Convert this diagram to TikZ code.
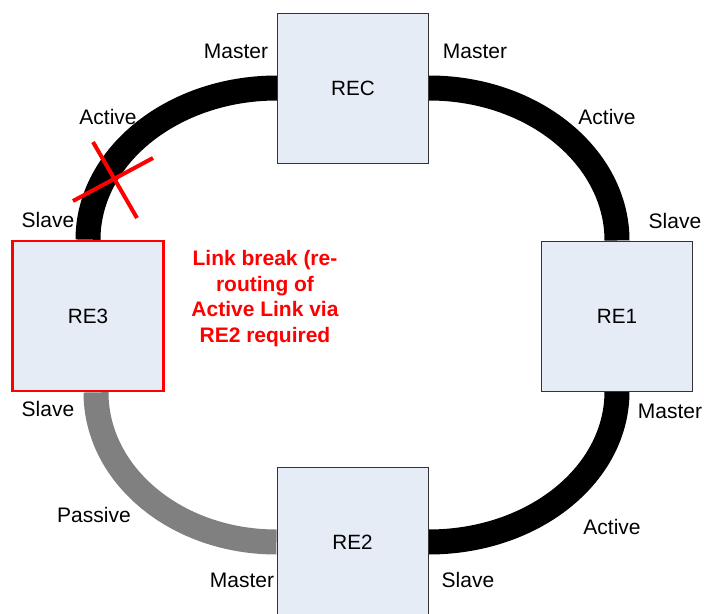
\documentclass[tikz,border=0pt]{standalone}
\usepackage{fontspec}
\setmainfont{Liberation Sans}
\usetikzlibrary{backgrounds}

\definecolor{boxfill}{RGB}{230,236,246}
\definecolor{boxline}{RGB}{51,51,51}
\definecolor{passivegray}{RGB}{128,128,128}

\tikzset{
  rebox/.style={draw=boxline, fill=boxfill, line width=0.75pt, minimum width=113.25pt, minimum height=112.5pt, inner sep=0pt, font=\fontsize{15.5}{18}\selectfont},
  portlabel/.style={inner sep=0.75pt, font=\fontsize{15.75}{18}\selectfont},
  activelink/.style={line width=18.75pt, color=black},
  passivelink/.style={line width=18.75pt, color=passivegray}
}

\begin{document}
\begin{tikzpicture}[x=0.75pt,y=0.75pt,yscale=-1,xscale=1]
\useasboundingbox (0,0) rectangle (704,614);

% Boxes
\node [rebox] (rec) at (353,88) {REC};
\node [rebox] (re1) at (617,316) {RE1};
\node [rebox, draw=red, line width=2pt] (re3) at (88,316) {RE3};
\node [rebox] (re2) at (352.5,542) {RE2};

% Links
\begin{pgfonlayer}{background}
\draw [activelink] (rec.west) .. controls +(-105,0) and +(0,-83) .. (re3.north);
\draw [activelink] (rec.east) .. controls +(105,0) and +(0,-83) .. (re1.north);
\draw [activelink] (re1.south) .. controls +(0,83) and +(105,0) .. (re2.east);
\draw [passivelink] ([xshift=6pt]re3.south) .. controls +(0,83) and +(-100,0) .. (re2.west);
\end{pgfonlayer}

% Link break
\draw [red, line width=3pt] (93,142) -- (137,218);
\draw [red, line width=3pt] (73,201) -- (153,158);

% Text Node
\node [portlabel] (recMasterL) at (236,51) {Master};
\node [portlabel] (recMasterR) at (475,51) {Master};
\node [portlabel] (activeTL) at (108,117) {Active};
\node [portlabel] (activeTR) at (607,117) {Active};
\node [portlabel] (re3SlaveT) at (48,220) {Slave};
\node [portlabel] (re1Slave) at (675,221) {Slave};
\node [portlabel] (re3SlaveB) at (48,409) {Slave};
\node [portlabel] (re1Master) at (670,411) {Master};
\node [portlabel] (passiveBL) at (94,515) {Passive};
\node [portlabel] (activeBR) at (612,527) {Active};
\node [portlabel] (re2Master) at (242,580) {Master};
\node [portlabel] (re2Slave) at (468,580) {Slave};

% Text Node
\node [inner sep=0.75pt, align=center, text=red, font=\fontsize{15.75}{19.1}\selectfont\bfseries] (breaknote) at (265,298.5) {Link break (re-\\routing of\\Active Link via\\RE2 required};

\end{tikzpicture}
\end{document}
